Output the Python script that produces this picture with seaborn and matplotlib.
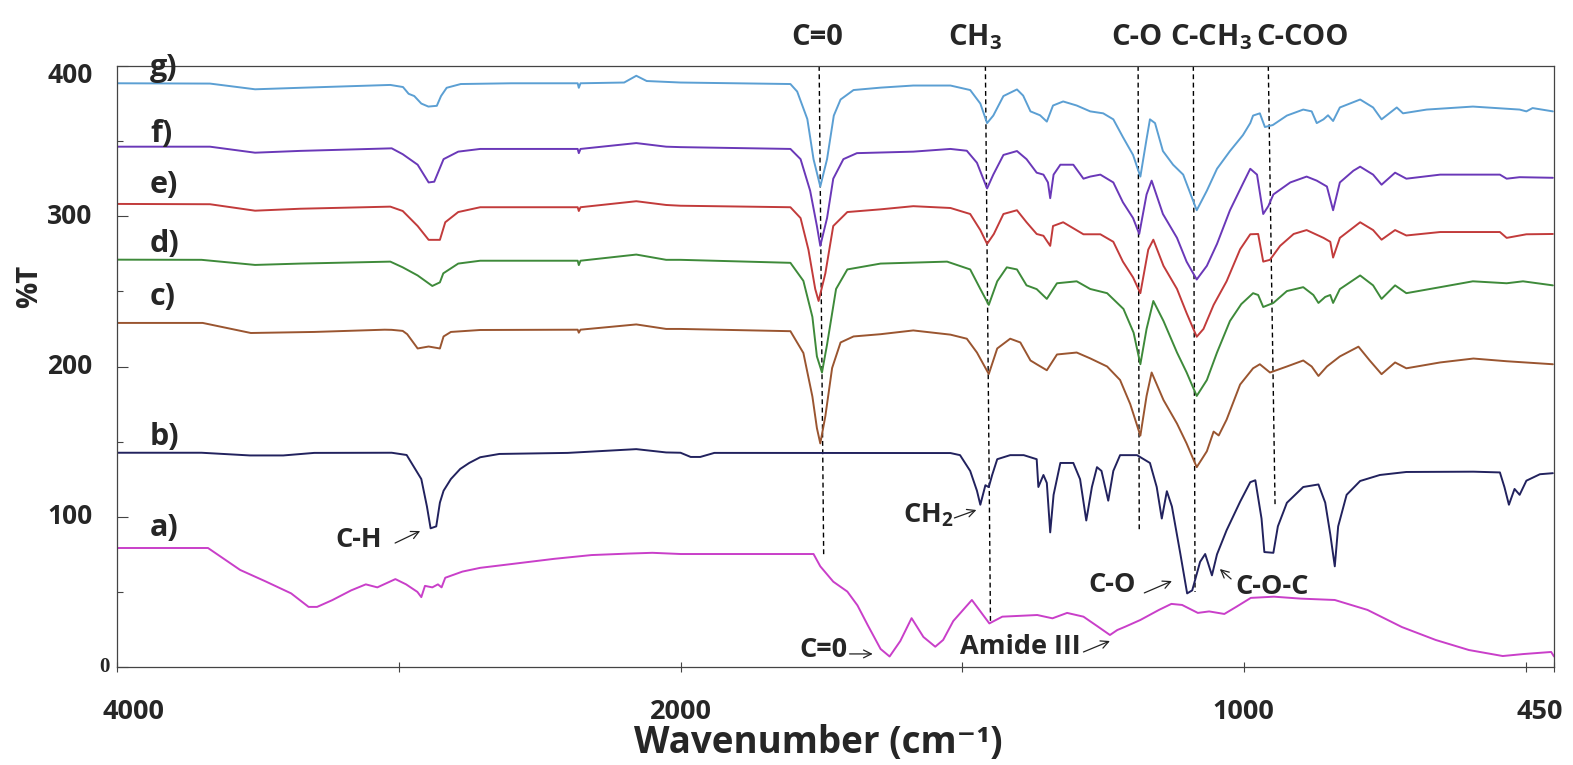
import numpy as np
import pandas as pd
import matplotlib
matplotlib.use("Agg")
import matplotlib.pyplot as plt
import seaborn as sns

# FTIR spectra (%T, stacked with offsets), wavenumber in cm-1
A_WN = [4000, 3677, 3563, 3473, 3382, 3320, 3290, 3236, 3169, 3117, 3076, 3012, 2974, 2934, 2920,
        2907, 2881, 2861, 2848, 2835, 2774, 2711, 2579, 2448, 2316, 2183, 2100, 2000, 1900, 1764,
        1752, 1729, 1704, 1686, 1668, 1645, 1629, 1610, 1590, 1569, 1548, 1534, 1516, 1483, 1452,
        1429, 1367, 1340, 1314, 1285, 1259, 1238, 1225, 1211, 1184, 1151, 1129, 1110, 1082, 1062,
        1035, 1014, 988, 947, 899, 839, 781, 720, 660, 601, 541, 505, 455, 450]
A_T = [79.2, 79.2, 64.6, 57, 49, 40, 40, 44.5, 51, 55, 53, 58.5, 55, 50, 46.5,
       54, 53, 55, 53, 59.4, 63.5, 66, 69, 72, 74.5, 75.5, 76, 75.2, 75.2, 75.2,
       67, 56.8, 50.2, 41, 28, 12, 7, 17.3, 32.5, 20, 13.5, 18, 30.6, 44.6, 29,
       33.5, 34.6, 32.4, 36, 33.5, 26.8, 21.3, 24.6, 26.8, 31.3, 38, 42, 41.3, 36, 37,
       35.3, 40, 46, 46.8, 45.5, 44.6, 38, 26.6, 18, 11.3, 7.3, 8.6, 10, 7]

B_WN = [4000, 3700, 3528, 3410, 3300, 3025, 2972, 2946, 2920, 2900, 2887, 2867, 2854, 2841, 2815,
        2782, 2750, 2711, 2643, 2400, 2157, 2051, 2000, 1982, 1965, 1940, 1521, 1504, 1486, 1474,
        1468, 1459, 1453, 1447, 1438, 1415, 1391, 1368, 1365, 1356, 1350, 1344, 1338, 1326, 1303,
        1291, 1280, 1270, 1261, 1253, 1241, 1232, 1220, 1190, 1167, 1155, 1146, 1137, 1128, 1113,
        1101, 1092, 1078, 1069, 1057, 1048, 1031, 1007, 989, 980, 969, 964, 948, 940, 924,
        895, 868, 856, 847, 839, 833, 818, 794, 759, 712, 593, 546, 538, 530, 520,
        511, 499, 475, 452]
B_T = [142.6, 142.6, 140.8, 140.8, 142.5, 142.6, 141.1, 133.1, 125.1, 106.8, 92.3, 93.6, 109.4, 117.3, 125.1,
       131.8, 135.8, 139.6, 141.8, 142.5, 145, 142.8, 142.6, 139.8, 139.8, 142.5, 142.4, 141, 130.5, 117.3,
       108, 121, 119.7, 127.8, 138.3, 141, 141, 138.3, 119.8, 127.8, 122.5, 89.6, 114.6, 135.8, 135.8,
       125, 97.5, 119.8, 133, 130.5, 110.7, 130.5, 141, 141, 135.8, 119.8, 98.8, 117, 106.8, 75.2,
       49, 51, 70, 75.2, 61, 75, 91, 110, 123, 124.3, 98.8, 76.5, 76, 93.6, 109.3,
       119.8, 121.5, 109.4, 88.3, 67, 93.6, 114.6, 123.8, 127.8, 129.8, 130, 129.5, 119.8, 108, 118.5,
       114.6, 124, 128.3, 129]

C_WN = [4000, 3696, 3525, 3300, 3050, 3025, 2986, 2970, 2933, 2894, 2854, 2841, 2815, 2711, 2365,
        2361, 2355, 2157, 2051, 2000, 1805, 1782, 1766, 1758, 1752, 1743, 1731, 1716, 1693, 1645,
        1587, 1521, 1492, 1474, 1453, 1438, 1415, 1397, 1379, 1368, 1350, 1332, 1297, 1273, 1243,
        1220, 1202, 1184, 1173, 1164, 1143, 1119, 1102, 1084, 1066, 1054, 1045, 1031, 1007, 984,
        972, 954, 924, 895, 880, 868, 853, 830, 797, 777, 756, 732, 712, 652, 593,
        534, 452]
C_T = [229, 229, 222.3, 223, 224.5, 224.4, 223.7, 221.5, 212, 213.3, 212, 220, 223, 224.3, 224.5,
       222.5, 224.5, 228, 225, 225, 223.5, 209, 180, 159, 148.8, 167, 199, 216, 220, 221.5,
       224, 221.2, 218.5, 209.3, 195, 212, 218.5, 216, 204, 201.5, 197.5, 208, 209.3, 205.4, 200,
       191, 175, 154, 180.4, 196, 177.7, 162, 148.8, 133, 143.6, 156.7, 154.1, 164.6, 188, 198.8,
       201.5, 196, 200, 204, 200, 193.7, 200, 206.7, 213.2, 204, 194.9, 202.7, 198.8, 202.7, 205.3,
       203.5, 201.5]

D_WN = [4000, 3700, 3510, 3350, 3030, 2986, 2933, 2881, 2854, 2842, 2789, 2711, 2365, 2361, 2355,
        2157, 2051, 2000, 1805, 1782, 1766, 1758, 1749, 1740, 1724, 1704, 1645, 1527, 1486, 1468,
        1453, 1438, 1421, 1403, 1386, 1368, 1350, 1332, 1297, 1273, 1243, 1214, 1196, 1184, 1173,
        1161, 1143, 1119, 1102, 1084, 1066, 1048, 1025, 1005, 984, 975, 966, 948, 924, 895,
        877, 868, 856, 847, 842, 830, 794, 771, 756, 732, 712, 652, 594, 534, 505,
        452]
D_T = [271.1, 271, 267.6, 268.5, 269.8, 266, 260.6, 253.6, 256, 262, 268.5, 270.4, 270.4, 267.5, 270.4,
       274.5, 271, 271, 269, 257, 233, 206.7, 196, 214.6, 251.6, 264.6, 268.5, 269.8, 264.6, 251.6,
       241, 256.7, 266, 264.6, 254, 251.5, 245, 255.4, 256.7, 251.6, 248.8, 238.3, 222.5, 201.5, 225,
       243.6, 230.3, 209.3, 196.1, 180.4, 191, 209.3, 230.3, 241.5, 248.8, 247.6, 239.6, 242.3, 250.2, 252.8,
       247.6, 242.3, 246.3, 247.6, 242.3, 251.5, 260.6, 254, 245, 254, 248.8, 252.8, 256.7, 255.4, 256.7,
       254]

E_WN = [4000, 3670, 3510, 3350, 3030, 2986, 2933, 2894, 2854, 2835, 2789, 2711, 2365, 2361, 2355,
        2157, 2051, 2000, 1805, 1787, 1773, 1761, 1755, 1743, 1729, 1704, 1645, 1587, 1521, 1486,
        1468, 1456, 1444, 1427, 1403, 1386, 1368, 1356, 1344, 1339, 1321, 1285, 1255, 1232, 1215,
        1197, 1184, 1170, 1161, 1143, 1119, 1102, 1084, 1072, 1054, 1031, 1007, 989, 975, 966,
        954, 936, 912, 889, 859, 847, 842, 830, 794, 771, 756, 732, 712, 652, 546,
        534, 499, 452]
E_T = [308.2, 308, 303.7, 305, 306.4, 303.5, 293.5, 284.3, 284.3, 296, 302.8, 306, 306, 303.5, 306,
       310, 307.5, 307, 306, 298.8, 277.7, 251.6, 243.6, 262, 293.5, 302.8, 304.6, 306.7, 305.5, 301.5,
       290.8, 281.6, 288.2, 301.5, 304, 296, 288.2, 287, 280.3, 293.5, 296, 288, 288, 283, 269.8,
       259.3, 248.8, 277.8, 284.4, 267, 251.6, 235.6, 219.8, 225, 241, 256.7, 278, 288, 288.2, 269.8,
       271, 280.3, 288.2, 290.8, 285.6, 283, 272.5, 285.6, 296, 290.8, 284.4, 290.8, 287.2, 289.5, 289.5,
       285.6, 288, 288.2]

F_WN = [4000, 3670, 3510, 3350, 3025, 2986, 2933, 2894, 2874, 2841, 2789, 2711, 2365, 2361, 2355,
        2157, 2051, 2000, 1805, 1787, 1770, 1758, 1752, 1740, 1729, 1711, 1687, 1587, 1521, 1492,
        1474, 1456, 1445, 1427, 1403, 1386, 1368, 1356, 1348, 1344, 1338, 1326, 1303, 1285, 1273,
        1255, 1232, 1215, 1197, 1186, 1173, 1164, 1144, 1119, 1102, 1084, 1066, 1048, 1025, 1001,
        989, 977, 966, 957, 948, 918, 889, 871, 853, 842, 830, 806, 794, 771, 756,
        732, 712, 652, 546, 534, 511, 452]
F_T = [346.3, 346.3, 342.3, 343.5, 345.2, 341.3, 334.3, 322.5, 323, 338, 343, 344.8, 344.8, 342, 344.8,
       348.7, 346.3, 346, 344.8, 338, 317, 293.5, 280.3, 298.8, 325, 338, 342, 343, 344.8, 343.6,
       335.6, 318.5, 327.7, 340.8, 343.4, 338, 329, 327.7, 322.5, 312, 327.7, 334.3, 334.3, 325, 326.4,
       327.7, 322.5, 309.3, 298.8, 288.2, 314.5, 323.7, 301.5, 285.6, 269.8, 257.9, 267, 281.6, 304, 322.5,
       331.6, 327.7, 301.5, 306.7, 314.5, 322.5, 326.4, 323.7, 319.8, 304, 322.5, 330.3, 333, 327.7, 321,
       329, 325, 327.7, 327.7, 325, 326, 325.6]

G_WN = [4000, 3670, 3510, 3350, 3030, 2985, 2965, 2945, 2920, 2895, 2865, 2850, 2830, 2780, 2600,
        2365, 2361, 2355, 2200, 2157, 2120, 2000, 1805, 1793, 1775, 1764, 1752, 1740, 1728, 1716,
        1693, 1645, 1587, 1521, 1486, 1468, 1456, 1445, 1427, 1403, 1392, 1379, 1362, 1350, 1339,
        1321, 1297, 1273, 1250, 1232, 1215, 1197, 1184, 1173, 1167, 1158, 1144, 1126, 1108, 1084,
        1066, 1048, 1025, 1002, 989, 984, 972, 963, 949, 924, 895, 880, 871, 859, 851,
        842, 830, 794, 771, 756, 729, 718, 676, 594, 511, 499, 488, 452]
G_T = [388.5, 388.3, 384.5, 385.5, 387.4, 386, 381.5, 380, 375, 373, 373.5, 380, 385.5, 388, 388.5,
       388.5, 385.5, 388.5, 389, 393.5, 390, 389, 388, 383, 364.7, 338, 319.8, 338, 367, 377.7,
       384, 385.6, 387, 387, 384, 375, 362, 367, 380, 384.4, 380.3, 369.8, 367.2, 363, 373.7,
       376.4, 373.7, 369.8, 368.5, 364.5, 352.7, 340.8, 326.4, 351.4, 364.5, 362, 343.4, 334.3, 327.7, 304,
       317, 331.6, 343.4, 354, 362, 367, 368.5, 359.4, 360.7, 367, 371, 369.8, 362, 364.5, 367.2,
       363.4, 372.4, 377.7, 372.4, 364.5, 372.4, 368.5, 371, 373, 371, 369.8, 372, 369.8]

CURVE_NAMES = ["a)", "b)", "c)", "d)", "e)", "f)", "g)"]
CURVE_COLORS = ["#c93fc9", "#22225e", "#9a5530", "#3e8a3a", "#c23b3b", "#6a38b8", "#5b9fd3"]
CURVE_LABEL_T = [92.5, 153, 246.3, 281.5, 320.8, 355, 399]

# band assignments: dashed guide lines (top wn, bottom wn, bottom %T) and their labels
BAND_TOP_WN = [1754, 1459, 1188, 1090, 957]
BAND_BOT_WN = [1746, 1450, 1186, 1087, 945]
BAND_BOT_T = [75, 30, 91, 50, 108]
BAND_LABELS = ["C=0", "CH$_{3}$", "C-O", "C-CH$_{3}$", "C-COO"]
BAND_LABEL_WN = [1757, 1477, 1190, 1058, 897]

# arrow annotations: text, text anchor (wn, %T), arrow tail, arrow tip
NOTE_TEXT = ["C-H", "CH$_{2}$", "C=0", "Amide III", "C-O", "C-O-C"]
NOTE_POS = [(3144, 84.5), (1560, 101.2), (1746, 11.3), (1397, 13.3), (1234, 54.6), (950, 53.2)]
NOTE_TAIL = [(3013, 82.5), (1514, 99.2), (1700, 8.7), (1285, 10.0), (1177, 49.3), (1023, 58.6)]
NOTE_TIP = [(2924, 90.5), (1475, 104.5), (1659, 8.7), (1238, 17.3), (1128, 57.2), (1043, 65.2)]

# axis tick values and where their labels sit
X_TICKS = [4000, 2000, 1000, 450]
X_TICK_LABEL_WN = [3943, 2000, 1002, 475]
X_MINOR = [3000, 1500, 500]
Y_TICKS = [0, 100, 200, 300, 400]
Y_TICK_LABEL_T = [0, 100, 200, 300, 394]
Y_MINOR = [50, 150, 250, 350]

series = [(A_WN, A_T), (B_WN, B_T), (C_WN, C_T), (D_WN, D_T), (E_WN, E_T), (F_WN, F_T), (G_WN, G_T)]
frames = []
for name, (wn, t) in zip(CURVE_NAMES, series):
    frames.append(pd.DataFrame({"wavenumber": wn, "T": t, "sample": name}))
df = pd.concat(frames, ignore_index=True)

sns.set_theme(style="white")
FONT = ["Open Sans", "DejaVu Sans"]
plt.rcParams["font.family"] = FONT
plt.rcParams["font.weight"] = "bold"
plt.rcParams["mathtext.fontset"] = "custom"
plt.rcParams["mathtext.rm"] = "Open Sans:bold"
plt.rcParams["mathtext.it"] = "Open Sans:bold"
plt.rcParams["mathtext.bf"] = "Open Sans:bold"
plt.rcParams["mathtext.default"] = "rm"

fig = plt.figure(figsize=(15.73, 7.65), dpi=100)
ax = fig.add_axes([117 / 1573, 98 / 765, 1437 / 1573, 601 / 765])


# the 4000-2000 region is compressed to half scale
def fwd(w):
    w = np.asarray(w, dtype=float)
    return np.where(w > 2000, 2000 + (w - 2000) / 2.0, w)


def inv(t):
    t = np.asarray(t, dtype=float)
    return np.where(t > 2000, 2000 + (t - 2000) * 2.0, t)


ax.set_xscale("function", functions=(fwd, inv))

sns.lineplot(data=df, x="wavenumber", y="T", hue="sample", units="sample",
             palette=dict(zip(CURVE_NAMES, CURVE_COLORS)), estimator=None, sort=False,
             lw=1.4, legend=False, ax=ax)

ax.set_xlim(4000, 450)
ax.set_ylim(0, 400)

for top, bot, tb in zip(BAND_TOP_WN, BAND_BOT_WN, BAND_BOT_T):
    ax.plot([top, bot], [400, tb], color="black", lw=1.0, ls=(0, (3.5, 2.5)), zorder=1)

for lbl, wn in zip(BAND_LABELS, BAND_LABEL_WN):
    ax.text(wn, 414, lbl, ha="center", va="baseline", fontsize=21, fontweight="bold",
            clip_on=False)

for lbl, t in zip(CURVE_NAMES, CURVE_LABEL_T):
    ax.text(3883, t, lbl, ha="left", va="center", fontsize=22, fontweight="bold", clip_on=False)

for txt, pos, tail, tip in zip(NOTE_TEXT, NOTE_POS, NOTE_TAIL, NOTE_TIP):
    ax.text(pos[0], pos[1], txt, ha="center", va="center", fontsize=19.5, fontweight="bold")
    ax.annotate("", xy=tip, xytext=tail,
                arrowprops=dict(arrowstyle="->", lw=0.9, color="#222222",
                                shrinkA=0, shrinkB=0, mutation_scale=14))

ax.set_xticks(X_TICKS)
ax.set_xticks(X_MINOR, minor=True)
ax.set_yticks(Y_TICKS)
ax.set_yticks(Y_MINOR, minor=True)
ax.set_xticklabels([])
ax.set_yticklabels([])

ax.tick_params(axis="x", which="both", direction="inout", length=7, width=0.8, color="#444444")
ax.tick_params(axis="y", which="major", direction="in", length=8, width=0.8, color="#444444")
ax.tick_params(axis="y", which="minor", direction="in", length=4, width=0.8, color="#444444")
ax.tick_params(left=True, bottom=True, which="both")

xform_x = ax.get_xaxis_transform()
for v, wn in zip(X_TICKS, X_TICK_LABEL_WN):
    ax.text(wn, -0.075, str(v), transform=xform_x, ha="center", va="center",
            fontsize=19.5, fontweight="bold", clip_on=False)

xform_y = ax.get_yaxis_transform()
for v, t in zip(Y_TICKS, Y_TICK_LABEL_T):
    if v == 0:
        # the zero of the %T axis is set in a serif face
        ax.text(-0.005, t, "0", transform=xform_y, ha="right", va="center",
                fontsize=15, family=["Liberation Serif", "DejaVu Serif"], fontweight="bold",
                clip_on=False)
    else:
        ax.text(-0.017, t, str(v), transform=xform_y, ha="right", va="center",
                fontsize=19, fontweight="bold", clip_on=False)

for sp in ax.spines.values():
    sp.set_color("#444444")
    sp.set_linewidth(0.9)

ax.set_xlabel("")
ax.set_ylabel("")
fig.text(818 / 1573, 1 - 743 / 765, "Wavenumber (cm\u207b\u00b9)", ha="center", va="center",
         fontsize=26.5, fontweight="bold", family=["Open Sans", "DejaVu Sans"])
fig.text(30 / 1573, 1 - 286 / 765, "%T", rotation=90, ha="center", va="center",
         fontsize=21, fontweight="bold")

fig.savefig("out.png", dpi=100, facecolor="white")
